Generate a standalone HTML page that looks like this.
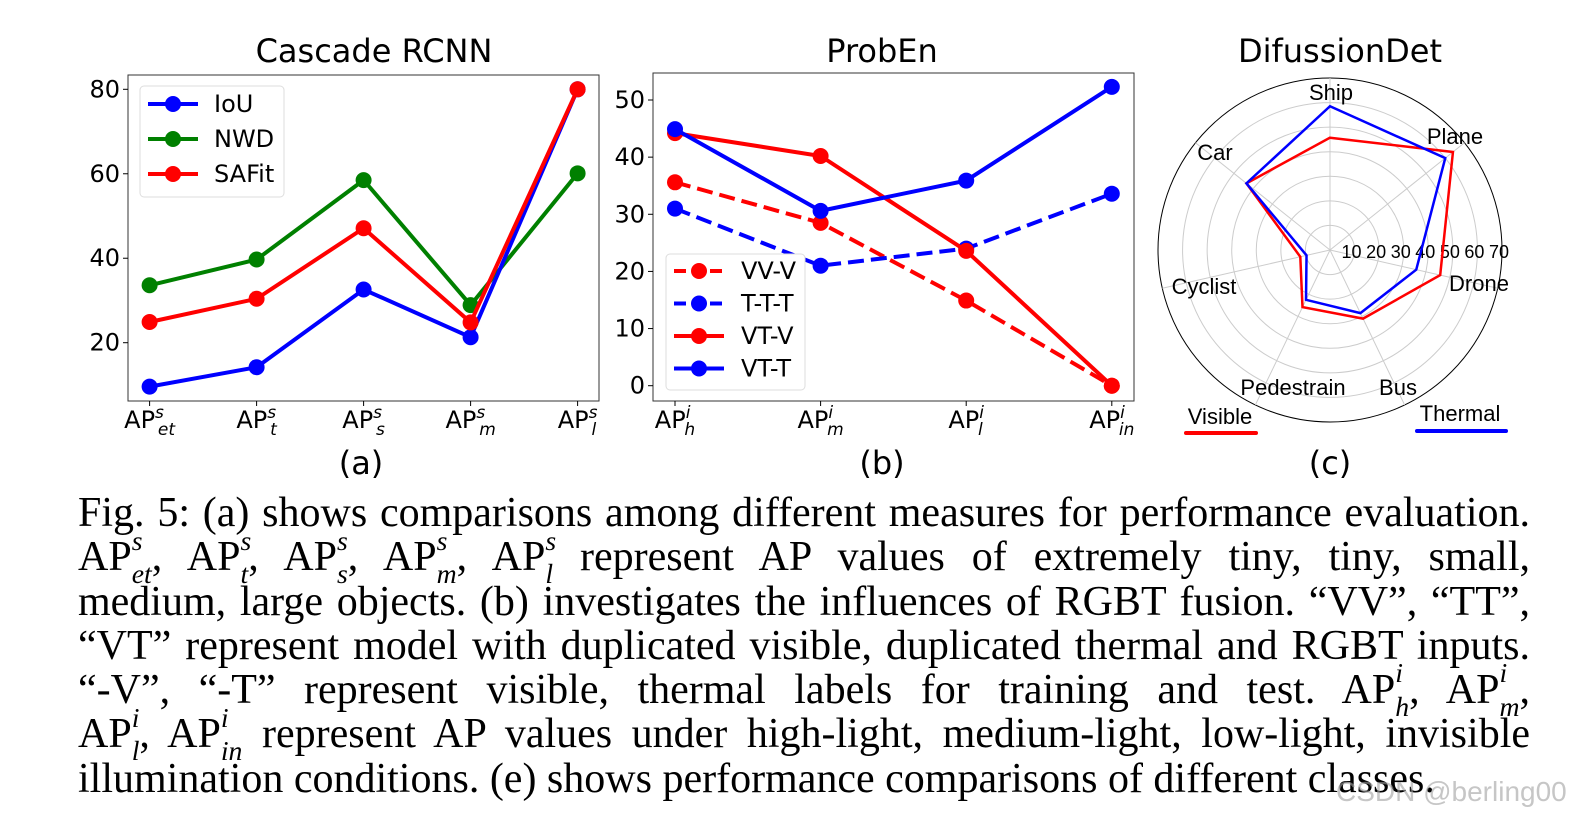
<!DOCTYPE html>
<html><head><meta charset="utf-8"><style>
body{margin:0;width:1584px;height:825px;background:#fff;overflow:hidden;position:relative}
svg{position:absolute;left:0;top:0}
.cap{position:absolute;left:78px;width:1452px;font-family:"Liberation Serif",serif;font-size:42px;color:#000;top:491px}
.cap div{text-align:justify;text-align-last:justify;white-space:nowrap;height:44.3px;line-height:44px}
.cap div.last{text-align-last:left}
.sp{display:inline-block;position:relative;line-height:0;font-size:0.66em;font-style:italic;vertical-align:baseline}
.sp .u{position:absolute;left:0;top:-0.75em}
.sp .d{position:relative;top:0.45em}
.wm{position:absolute;left:1336px;top:776px;font-family:"Liberation Sans",sans-serif;font-size:28px;color:rgba(160,160,160,0.6)}
</style></head><body>
<svg id="fig" width="1584" height="480"></svg>
<div class="cap">
<div>Fig. 5: (a) shows comparisons among different measures for performance evaluation.</div>
<div>AP<span class="sp"><span class="u">s</span><span class="d">et</span></span>, AP<span class="sp"><span class="u">s</span><span class="d">t</span></span>, AP<span class="sp"><span class="u">s</span><span class="d">s</span></span>, AP<span class="sp"><span class="u">s</span><span class="d">m</span></span>, AP<span class="sp"><span class="u">s</span><span class="d">l</span></span> represent AP values of extremely tiny, tiny, small,</div>
<div>medium, large objects. (b) investigates the influences of RGBT fusion. “VV”, “TT”,</div>
<div>“VT” represent model with duplicated visible, duplicated thermal and RGBT inputs.</div>
<div>“-V”, “-T” represent visible, thermal labels for training and test. AP<span class="sp"><span class="u">i</span><span class="d">h</span></span>, AP<span class="sp"><span class="u">i</span><span class="d">m</span></span>,</div>
<div>AP<span class="sp"><span class="u">i</span><span class="d">l</span></span>, AP<span class="sp"><span class="u">i</span><span class="d">in</span></span> represent AP values under high-light, medium-light, low-light, invisible</div>
<div class="last">illumination conditions. (e) shows performance comparisons of different classes.</div>
</div>
<div class="wm">CSDN @berling00</div>
<script>
// Panel (a)
const aCats=["et","t","s","m","l"];
const aIoU=[9.6,14.2,32.6,21.3,80];
const aNWD=[33.6,39.7,58.5,28.9,60.1];
const aSAFit=[24.9,30.4,47.1,24.8,80];
const aTicks=[20,40,60,80];
// Panel (b)
const bCats=["h","m","l","in"];
const bVVV=[35.6,28.5,14.9,0];
const bTTT=[31.0,21.0,24.0,33.6];
const bVTV=[44.2,40.2,23.6,0];
const bVTT=[44.9,30.6,35.9,52.3];
const bTicks=[0,10,20,30,40,50];
// Panel (c)
const cCats=["Ship","Plane","Drone","Bus","Pedestrain","Cyclist","Car"];
const cVisible=[45.7,64,46,31,25.8,12.4,43.5];
const cThermal=[58.5,60,36,28.5,22.5,9.8,43.5];
const cTicks=[10,20,30,40,50,60,70];

const NS="http://www.w3.org/2000/svg";
const svg=document.getElementById('fig');
function mk(tag,attrs,parent){const e=document.createElementNS(NS,tag);for(const k in attrs)e.setAttribute(k,attrs[k]);(parent||svg).appendChild(e);return e;}
function txt(x,y,s,size,anchor,parent,fam){const t=mk('text',{x:x,y:y,'font-size':size,'text-anchor':anchor||'middle','font-family':fam||'"DejaVu Sans",sans-serif',fill:'#000'},parent);t.textContent=s;return t;}
function apLabel(x,y,sup,sub,g){const t=mk('text',{x:x,y:y,'font-size':24,'text-anchor':'middle','font-family':'"DejaVu Sans",sans-serif'},g);
 const a=mk('tspan',{},t);a.textContent='AP';
 const b=mk('tspan',{dy:-10,'font-size':17,'font-style':'italic'},t);b.textContent=sup;
 const c=mk('tspan',{dy:17,dx:-6,'font-size':17,'font-style':'italic'},t);c.textContent=sub;return t;}

// ---- Panel A
const gA=mk('g',{});


const ax={l:128,r:599,t:75,b:401};
const axX=i=>149.6+i*107;
const axY=v=>342.7-(v-20)*(253.4/60);
mk('rect',{x:ax.l,y:ax.t,width:ax.r-ax.l,height:ax.b-ax.t,fill:'none',stroke:'#333','stroke-width':1},gA);
txt(374,62,'Cascade RCNN',32,'middle',gA);
aTicks.forEach(v=>{mk('line',{x1:ax.l-5,x2:ax.l,y1:axY(v),y2:axY(v),stroke:'#000'},gA);const t=txt(ax.l-8,axY(v)+8,String(v),24,'end',gA);});
aCats.forEach((c,i)=>{mk('line',{x1:axX(i),x2:axX(i),y1:ax.b,y2:ax.b+5,stroke:'#000'},gA);const t=apLabel(axX(i),428,'s',c,gA);});
function series(g,vals,X,Y,color,dash,name){const p=mk('polyline',{points:vals.map((v,i)=>X(i)+','+Y(v)).join(' '),fill:'none',stroke:color,'stroke-width':4,'stroke-dasharray':dash||'none'},g);
 
 vals.forEach((v,i)=>{const c=mk('circle',{cx:X(i),cy:Y(v),r:8,fill:color},g);});}
series(gA,aNWD,axX,axY,'#008000','','nwd');
series(gA,aIoU,axX,axY,'#0000ff','','iou');
series(gA,aSAFit,axX,axY,'#ff0000','','safit');
const lgA=mk('g',{},gA);

mk('rect',{x:140,y:86,width:144,height:111,rx:4,fill:'#fff',stroke:'#ddd'},lgA);
[['IoU','#0000ff'],['NWD','#008000'],['SAFit','#ff0000']].forEach((e,i)=>{const y=104+i*35;mk('line',{x1:148,x2:198,y1:y,y2:y,stroke:e[1],'stroke-width':4},lgA);mk('circle',{cx:173,cy:y,r:8,fill:e[1]},lgA);txt(214,y+8,e[0],24,'start',lgA);});
txt(361,474,'(a)',32,'middle',gA);

// ---- Panel B
const gB=mk('g',{});


const bx={l:653,r:1134,t:73,b:401};
const bX=i=>675+i*145.6;
const bY=v=>385.7-v*(285.7/50);
mk('rect',{x:bx.l,y:bx.t,width:bx.r-bx.l,height:bx.b-bx.t,fill:'none',stroke:'#333','stroke-width':1},gB);
txt(882,62,'ProbEn',32,'middle',gB);
bTicks.forEach(v=>{mk('line',{x1:bx.l-5,x2:bx.l,y1:bY(v),y2:bY(v),stroke:'#000'},gB);const t=txt(bx.l-8,bY(v)+8,String(v),24,'end',gB);});
bCats.forEach((c,i)=>{mk('line',{x1:bX(i),x2:bX(i),y1:bx.b,y2:bx.b+5,stroke:'#000'},gB);const t=apLabel(bX(i),428,'i',c,gB);});
series(gB,bVVV,bX,bY,'#ff0000','16,7','vv-v');
series(gB,bTTT,bX,bY,'#0000ff','16,7','t-t-t');
series(gB,bVTV,bX,bY,'#ff0000','','vt-v');
series(gB,bVTT,bX,bY,'#0000ff','','vt-t');
const lgB=mk('g',{},gB);

mk('rect',{x:666,y:254,width:139,height:136,rx:4,fill:'#fff',stroke:'#ddd'},lgB);
[['VV-V','#ff0000','12,6'],['T-T-T','#0000ff','12,6'],['VT-V','#ff0000',''],['VT-T','#0000ff','']].forEach((e,i)=>{const y=271+i*32.5;mk('line',{x1:674,x2:724,y1:y,y2:y,stroke:e[1],'stroke-width':4,'stroke-dasharray':e[2]||'none'},lgB);mk('circle',{cx:699,cy:y,r:8,fill:e[1]},lgB);txt(741,y+8,e[0],24,'start',lgB);});
txt(882,474,'(b)',32,'middle',gB);

// ---- Panel C radar
const gC=mk('g',{});


const cx=1330,cy=250,R=172,maxV=70;
const ang=i=>(90-i*360/cCats.length)*Math.PI/180;
const rr=v=>v/maxV*R;
const px=(v,i)=>cx+rr(v)*Math.cos(ang(i)), py=(v,i)=>cy-rr(v)*Math.sin(ang(i));
txt(1340,62,'DifussionDet',32,'middle',gC);
cTicks.forEach(v=>{if(v<maxV)mk('circle',{cx:cx,cy:cy,r:rr(v),fill:'none',stroke:'#ccc','stroke-width':1},gC);});
mk('circle',{cx:cx,cy:cy,r:R,fill:'none',stroke:'#000','stroke-width':1},gC);
cCats.forEach((c,i)=>{mk('line',{x1:cx,y1:cy,x2:px(maxV,i),y2:py(maxV,i),stroke:'#ccc','stroke-width':1},gC);});
cTicks.forEach(v=>{const t=txt(cx+rr(v)-3,cy+8,String(v),18,'middle',gC,'"Liberation Sans",sans-serif');});
const labPos=[[1331,100],[1455,144],[1479,291],[1398,395],[1293,395],[1204,294],[1215,160]];
cCats.forEach((c,i)=>{const t=txt(labPos[i][0],labPos[i][1],c,22,'middle',gC,'"Liberation Sans",sans-serif');});
function poly(vals,color,name){const p=mk('polygon',{points:vals.map((v,i)=>px(v,i)+','+py(v,i)).join(' '),fill:'none',stroke:color,'stroke-width':2.5},gC);}
poly(cVisible,'#ff0000','visible-polygon');
poly(cThermal,'#0000ff','thermal-polygon');
txt(1220,424,'Visible',22,'middle',gC,'"Liberation Sans",sans-serif');
mk('line',{x1:1186,x2:1256,y1:433,y2:433,stroke:'#ff0000','stroke-width':4,'stroke-linecap':'round'},gC);
txt(1460,421,'Thermal',22,'middle',gC,'"Liberation Sans",sans-serif');
mk('line',{x1:1417,x2:1506,y1:431,y2:431,stroke:'#0000ff','stroke-width':4,'stroke-linecap':'round'},gC);
txt(1330,474,'(c)',32,'middle',gC);
</script>
</body></html>
